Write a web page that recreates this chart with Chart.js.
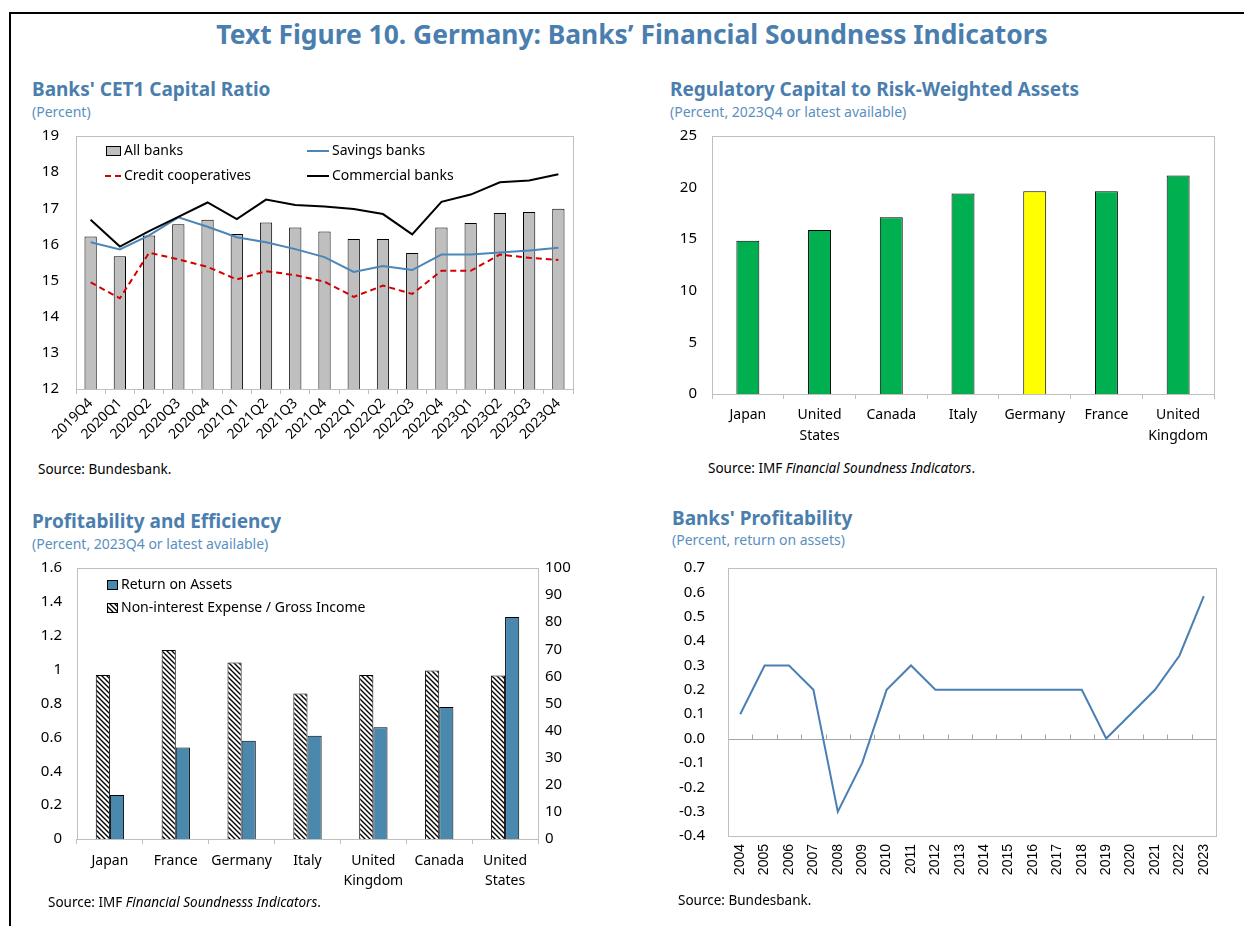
<!DOCTYPE html>
<html>
<head>
<meta charset="utf-8">
<script src="https://cdn.jsdelivr.net/npm/chart.js@4.4.1/dist/chart.umd.min.js"></script>
<style>
body{margin:0;background:#fff;width:1244px;height:926px;overflow:hidden;position:relative;font-family:'Noto Sans',sans-serif;}
#frame{position:absolute;left:9px;top:12px;width:1300px;height:1000px;border-left:2px solid #000;border-top:2px solid #000;}
.t{position:absolute;color:#4a7eae;white-space:nowrap;line-height:1.2}
.main{font-weight:bold;font-size:26.4px;left:0;width:1264px;text-align:center;top:19px}
.h{font-weight:bold;font-size:19px}
.s{font-size:14px;color:#5b8fc0}
.src{position:absolute;font-size:13.5px;color:#000;white-space:nowrap;line-height:1.2}
.box{position:absolute}
</style>
</head>
<body>
<div id="frame"></div>
<div class="t main">Text Figure 10. Germany: Banks’ Financial Soundness Indicators</div>

<div class="t h" style="left:32px;top:78px">Banks' CET1 Capital Ratio</div>
<div class="t s" style="left:32px;top:104px">(Percent)</div>
<div class="t h" style="left:670px;top:78px">Regulatory Capital to Risk-Weighted Assets</div>
<div class="t s" style="left:670px;top:104px">(Percent, 2023Q4 or latest available)</div>
<div class="t h" style="left:32px;top:510px">Profitability and Efficiency</div>
<div class="t s" style="left:32px;top:536px">(Percent, 2023Q4 or latest available)</div>
<div class="t h" style="left:672px;top:507px">Banks' Profitability</div>
<div class="t s" style="left:672px;top:532px">(Percent, return on assets)</div>

<div class="box" style="left:20px;top:110px;width:560px;height:350px"><canvas id="c1"></canvas></div>
<div class="box" style="left:660px;top:112px;width:570px;height:343px"><canvas id="c2"></canvas></div>
<div class="box" style="left:20px;top:544px;width:580px;height:351px"><canvas id="c3"></canvas></div>
<div class="box" style="left:660px;top:536px;width:580px;height:354px"><canvas id="c4"></canvas></div>

<div class="src" style="left:38px;top:461px">Source: Bundesbank.</div>
<div class="src" style="left:708px;top:460px">Source: IMF <i>Financial Soundness Indicators</i>.</div>
<div class="src" style="left:48px;top:894px">Source: IMF <i>Financial Soundnesss Indicators</i>.</div>
<div class="src" style="left:678px;top:892px">Source: Bundesbank.</div>

<script>
// CET1 capital ratio, percent
const cetLabels = ['2019Q4','2020Q1','2020Q2','2020Q3','2020Q4','2021Q1','2021Q2','2021Q3','2021Q4',
  '2022Q1','2022Q2','2022Q3','2022Q4','2023Q1','2023Q2','2023Q3','2023Q4'];
const allBanks = [16.22,15.67,16.25,16.56,16.68,16.29,16.61,16.47,16.36,16.15,16.15,15.76,16.47,16.59,16.87,16.90,16.99];
const savingsBanks = [16.06,15.86,16.25,16.75,16.49,16.20,16.06,15.87,15.65,15.24,15.40,15.29,15.72,15.72,15.78,15.83,15.91];
const creditCoops = [14.95,14.51,15.77,15.59,15.38,15.03,15.26,15.15,14.97,14.55,14.86,14.63,15.27,15.27,15.72,15.63,15.57];
const commercialBanks = [16.68,15.94,16.37,16.76,17.16,16.70,17.24,17.09,17.05,16.98,16.84,16.28,17.18,17.38,17.72,17.77,17.94];

// regulatory capital to RWA
const rcCountries = ['Japan',['United','States'],'Canada','Italy','Germany','France',['United','Kingdom']];
const rcValues = [14.84,15.9,17.13,19.42,19.65,19.65,21.17];

// profitability and efficiency
const peCountries = ['Japan','France','Germany','Italy',['United','Kingdom'],'Canada',['United','States']];
const roaValues = [0.26,0.54,0.58,0.61,0.66,0.78,1.31];
const nieValues = [60.5,69.7,65.1,53.7,60.5,62.2,60.3];

// banks' profitability, return on assets
const profYears = ['2004','2005','2006','2007','2008','2009','2010','2011','2012','2013',
  '2014','2015','2016','2017','2018','2019','2020','2021','2022','2023'];
const profValues = [0.1,0.3,0.3,0.2,-0.3,-0.1,0.2,0.3,0.2,0.2,0.2,0.2,0.2,0.2,0.2,0.0,0.1,0.2,0.34,0.585];

Chart.defaults.font.family = "'Noto Sans', sans-serif";
Chart.defaults.font.size = 14;
Chart.defaults.color = '#000';
Chart.defaults.animation = false;
Chart.defaults.plugins.legend.display = false;
Chart.defaults.plugins.tooltip.enabled = false;

function hatch() {
  const c = document.createElement('canvas');
  c.width = 5; c.height = 5;
  const g = c.getContext('2d');
  g.fillStyle = '#fff';
  g.fillRect(0, 0, 5, 5);
  g.strokeStyle = '#000';
  g.lineWidth = 1.4;
  g.beginPath();
  g.moveTo(-1, -1); g.lineTo(6, 6);
  g.moveTo(-1, 4); g.lineTo(1, 6);
  g.moveTo(4, -1); g.lineTo(6, 1);
  g.stroke();
  return g.createPattern(c, 'repeat');
}
const hatchFill = hatch();

// plot area outline
const frame = {
  id: 'frame',
  afterDatasetsDraw(chart) {
    const a = chart.chartArea, ctx = chart.ctx;
    ctx.save();
    ctx.strokeStyle = '#bfbfbf';
    ctx.lineWidth = 1;
    ctx.strokeRect(Math.round(a.left) + 0.5, Math.round(a.top) + 0.5, Math.round(a.width), Math.round(a.height));
    ctx.restore();
  }
};

// legend drawn inside plot area
const inLegend = {
  id: 'inLegend',
  afterDraw(chart, args, opts) {
    if (!opts.items) return;
    const ctx = chart.ctx, a = chart.chartArea;
    ctx.save();
    ctx.font = "14px 'Noto Sans'";
    ctx.textBaseline = 'middle';
    opts.items.forEach(it => {
      const ds = chart.data.datasets[it.ds];
      const x = a.left + it.x, y = a.top + it.y;
      if (it.kind === 'box') {
        ctx.fillStyle = ds.backgroundColor instanceof Array ? ds.backgroundColor[0] : ds.backgroundColor;
        ctx.fillRect(x, y - 5, it.w, 10);
        ctx.strokeStyle = '#000';
        ctx.lineWidth = 1;
        ctx.setLineDash([]);
        ctx.strokeRect(x + 0.5, y - 4.5, it.w - 1, 9);
      } else {
        ctx.strokeStyle = ds.borderColor;
        ctx.lineWidth = 2;
        ctx.setLineDash(ds.borderDash || []);
        ctx.beginPath();
        ctx.moveTo(x, y); ctx.lineTo(x + it.w, y);
        ctx.stroke();
      }
      ctx.fillStyle = '#000';
      ctx.fillText(ds.label, x + it.w + 3, y);
    });
    ctx.restore();
  }
};

// zero line with tick marks between categories
const zeroAxis = {
  id: 'zeroAxis',
  beforeDatasetsDraw(chart) {
    const x = chart.scales.x, y = chart.scales.y, ctx = chart.ctx;
    const y0 = Math.round(y.getPixelForValue(0)) + 0.5;
    ctx.save();
    ctx.strokeStyle = '#a6a6a6';
    ctx.lineWidth = 1;
    ctx.beginPath();
    ctx.moveTo(chart.chartArea.left, y0); ctx.lineTo(chart.chartArea.right, y0);
    for (let i = 0; i < profYears.length - 1; i++) {
      const bx = Math.round((x.getPixelForValue(i) + x.getPixelForValue(i + 1)) / 2) + 0.5;
      ctx.moveTo(bx, y0); ctx.lineTo(bx, y0 - 5);
    }
    ctx.stroke();
    ctx.restore();
  }
};

const xTicksGrid = { display: true, drawOnChartArea: false, drawTicks: true, tickLength: 5, color: '#bfbfbf', offset: true };
const noGrid = { display: false, drawTicks: false };
const yFont = { size: 15 };
const fmt1 = v => (Math.abs(v) < 1e-9 ? '0' : String(+v.toFixed(1)));

new Chart(document.getElementById('c1'), {
  data: {
    labels: cetLabels,
    datasets: [
      { type: 'bar', label: 'All banks', data: allBanks, backgroundColor: '#bfbfbf', borderColor: '#000', borderWidth: 1,
        barPercentage: 0.42, categoryPercentage: 1, order: 4 },
      { type: 'line', label: 'Savings banks', data: savingsBanks, borderColor: '#4a86b8', borderWidth: 2, pointRadius: 0, order: 3 },
      { type: 'line', label: 'Credit cooperatives', data: creditCoops, borderColor: '#d40000', borderDash: [6, 4], borderWidth: 2, pointRadius: 0, order: 2 },
      { type: 'line', label: 'Commercial banks', data: commercialBanks, borderColor: '#000', borderWidth: 2, pointRadius: 0, order: 1 }
    ]
  },
  options: {
    responsive: true, maintainAspectRatio: false,
    layout: { padding: { top: 0, right: 7, left: 0, bottom: 0 } },
    scales: {
      x: { offset: true, grid: xTicksGrid, border: { display: false },
        ticks: { maxRotation: 45, minRotation: 45, autoSkip: false, font: { size: 14 }, padding: 1 },
        afterFit: s => { s.height = 71; } },
      y: { min: 12, max: 19, grid: noGrid, border: { display: false },
        ticks: { stepSize: 1, padding: 17, font: yFont }, afterFit: s => { s.width = 56; } }
    },
    plugins: {
      inLegend: { items: [
        { ds: 0, kind: 'box', x: 30, y: 15, w: 15 },
        { ds: 1, kind: 'line', x: 231, y: 15, w: 22 },
        { ds: 2, kind: 'line', x: 29, y: 40, w: 16 },
        { ds: 3, kind: 'line', x: 231, y: 40, w: 22 }
      ] }
    }
  },
  plugins: [frame, inLegend]
});

new Chart(document.getElementById('c2'), {
  type: 'bar',
  data: {
    labels: rcCountries,
    datasets: [{ label: 'Regulatory capital', data: rcValues,
      backgroundColor: rcCountries.map(c => (c === 'Germany' ? '#ffff00' : '#00b050')),
      borderColor: '#000', borderWidth: 1, barPercentage: 0.32, categoryPercentage: 1 }]
  },
  options: {
    responsive: true, maintainAspectRatio: false,
    layout: { padding: { top: 0, right: 16, left: 0, bottom: 0 } },
    scales: {
      x: { grid: xTicksGrid, border: { display: false },
        ticks: { autoSkip: false, maxRotation: 0, padding: 6, font: { size: 14, lineHeight: 1.5 } },
        afterFit: s => { s.height = 61; } },
      y: { min: 0, max: 25, grid: noGrid, border: { display: false },
        ticks: { stepSize: 5, padding: 15, font: yFont }, afterFit: s => { s.width = 52; } }
    }
  },
  plugins: [frame]
});

new Chart(document.getElementById('c3'), {
  type: 'bar',
  data: {
    labels: peCountries,
    datasets: [
      { label: 'Non-interest Expense / Gross Income', data: nieValues, yAxisID: 'y1', backgroundColor: hatchFill,
        borderColor: '#000', borderWidth: 1, barPercentage: 1, categoryPercentage: 0.43 },
      { label: 'Return on Assets', data: roaValues, yAxisID: 'y', backgroundColor: '#4a89ad',
        borderColor: '#000', borderWidth: 1, barPercentage: 1, categoryPercentage: 0.43 }
    ]
  },
  options: {
    responsive: true, maintainAspectRatio: false,
    layout: { padding: { top: 0, right: 0, left: 0, bottom: 0 } },
    scales: {
      x: { grid: xTicksGrid, border: { display: false },
        ticks: { autoSkip: false, maxRotation: 0, padding: 7, font: { size: 14, lineHeight: 1.45 } },
        afterFit: s => { s.height = 56; } },
      y: { position: 'left', min: 0, max: 1.6, grid: noGrid, border: { display: false },
        ticks: { stepSize: 0.2, padding: 15, font: yFont, callback: fmt1 }, afterFit: s => { s.width = 57; } },
      y1: { position: 'right', min: 0, max: 100, grid: noGrid, border: { display: false },
        ticks: { stepSize: 10, padding: 7, font: yFont }, afterFit: s => { s.width = 62; } }
    },
    plugins: {
      inLegend: { items: [
        { ds: 1, kind: 'box', x: 30, y: 17, w: 11 },
        { ds: 0, kind: 'box', x: 30, y: 40, w: 11 }
      ] }
    }
  },
  plugins: [frame, inLegend]
});

new Chart(document.getElementById('c4'), {
  type: 'line',
  data: {
    labels: profYears,
    datasets: [{ label: 'Return on assets', data: profValues, borderColor: '#4a7fb4', borderWidth: 2, pointRadius: 0 }]
  },
  options: {
    responsive: true, maintainAspectRatio: false,
    layout: { padding: { top: 0, right: 24, left: 0, bottom: 0 } },
    scales: {
      x: { offset: true, grid: { display: false, drawTicks: false }, border: { display: false },
        ticks: { autoSkip: false, maxRotation: 90, minRotation: 90, padding: 8, font: { family: "'Liberation Sans', Arial", size: 14 } },
        afterFit: s => { s.height = 54; } },
      y: { min: -0.4, max: 0.7, grid: noGrid, border: { display: false },
        ticks: { stepSize: 0.1, padding: 23, font: yFont, callback: v => (Math.abs(v) < 1e-9 ? '0.0' : v.toFixed(1)) },
        afterFit: s => { s.width = 68; } }
    }
  },
  plugins: [zeroAxis, frame]
});
</script>
</body>
</html>
